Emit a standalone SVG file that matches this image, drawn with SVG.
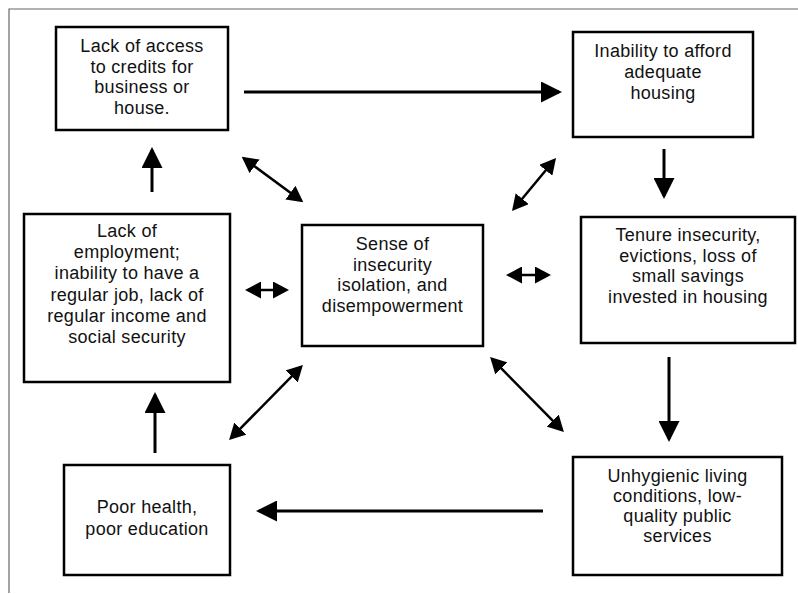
<svg xmlns="http://www.w3.org/2000/svg" width="798" height="594" viewBox="0 0 798 594">
<style>
.box{fill:#fff;stroke:#000;stroke-width:2.5}
.t{font-family:"Liberation Sans",Arial,sans-serif;font-size:18px;letter-spacing:0.3px;fill:#111;text-anchor:middle}
.a{stroke:#000;stroke-width:3;fill:none}
.d{stroke:#000;stroke-width:2.5;fill:none}
.frame{stroke:#666;stroke-width:1.2;fill:none}
</style>
<defs>
<marker id="ah" viewBox="0 0 21 21" markerWidth="21" markerHeight="21" refX="18" refY="10.5" markerUnits="userSpaceOnUse" orient="auto-start-reverse">
<path d="M0,0 L21,10.5 L0,21 z" fill="#000"/>
</marker>
<marker id="sh" viewBox="0 0 16 17" markerWidth="16" markerHeight="17" refX="13" refY="8.5" markerUnits="userSpaceOnUse" orient="auto-start-reverse">
<path d="M0,0 L16,8.5 L0,17 z" fill="#000"/>
</marker>
</defs>
<rect width="798" height="594" fill="#fff"/>
<path class="frame" d="M9,593 L9,9 L798,9"/>

<g id="connectors">
<line class="a" x1="244" y1="92" x2="559" y2="92" marker-end="url(#ah)"/>
<line class="a" x1="152" y1="192" x2="152" y2="150" marker-end="url(#ah)"/>
<line class="a" x1="664" y1="149" x2="664" y2="196" marker-end="url(#ah)"/>
<line class="a" x1="669" y1="357" x2="669" y2="439" marker-end="url(#ah)"/>
<line class="a" x1="155" y1="453" x2="155" y2="395" marker-end="url(#ah)"/>
<line class="a" x1="543" y1="511" x2="259" y2="511" marker-end="url(#ah)"/>
<line class="d" x1="244.1" y1="158.6" x2="300.9" y2="200.4" marker-start="url(#sh)" marker-end="url(#sh)"/>
<line class="d" x1="513.9" y1="208.7" x2="554.1" y2="160.3" marker-start="url(#sh)" marker-end="url(#sh)"/>
<line class="d" x1="300.8" y1="367.2" x2="231.2" y2="437.8" marker-start="url(#sh)" marker-end="url(#sh)"/>
<line class="d" x1="492.2" y1="359.2" x2="561.8" y2="429.8" marker-start="url(#sh)" marker-end="url(#sh)"/>
<line class="d" x1="248" y1="290" x2="286" y2="290" marker-start="url(#sh)" marker-end="url(#sh)"/>
<line class="d" x1="509" y1="275" x2="548" y2="275" marker-start="url(#sh)" marker-end="url(#sh)"/>
</g>

<g id="n-credits">
<rect class="box" x="56" y="27" width="172" height="103"/>
<text class="t"><tspan x="142" y="52">Lack of access</tspan><tspan x="142" y="72.5">to credits for</tspan><tspan x="142" y="93">business or</tspan><tspan x="142" y="113.5">house.</tspan></text>
</g>

<g id="n-housing">
<rect class="box" x="573" y="32" width="180" height="105"/>
<text class="t"><tspan x="663" y="57">Inability to afford</tspan><tspan x="663" y="78">adequate</tspan><tspan x="663" y="99">housing</tspan></text>
</g>

<g id="n-employment">
<rect class="box" x="24" y="214" width="206" height="168"/>
<text class="t"><tspan x="127" y="237">Lack of</tspan><tspan x="127" y="258">employment;</tspan><tspan x="127" y="279">inability to have a</tspan><tspan x="127" y="300.5">regular job, lack of</tspan><tspan x="127" y="322">regular income and</tspan><tspan x="127" y="343">social security</tspan></text>
</g>

<g id="n-insecurity">
<rect class="box" x="302" y="225" width="181" height="121"/>
<text class="t"><tspan x="392.5" y="250">Sense of</tspan><tspan x="392.5" y="270.5">insecurity</tspan><tspan x="392.5" y="291">isolation, and</tspan><tspan x="392.5" y="312">disempowerment</tspan></text>
</g>

<g id="n-tenure">
<rect class="box" x="581" y="217" width="214" height="126"/>
<text class="t"><tspan x="688" y="241">Tenure insecurity,</tspan><tspan x="688" y="261.5">evictions, loss of</tspan><tspan x="688" y="282">small savings</tspan><tspan x="688" y="303">invested in housing</tspan></text>
</g>

<g id="n-unhygienic">
<rect class="box" x="573" y="457" width="209" height="118"/>
<text class="t"><tspan x="677.5" y="482">Unhygienic living</tspan><tspan x="677.5" y="502">conditions, low-</tspan><tspan x="677.5" y="522">quality public</tspan><tspan x="677.5" y="542">services</tspan></text>
</g>

<g id="n-health">
<rect class="box" x="64" y="465" width="166" height="110"/>
<text class="t"><tspan x="147" y="513">Poor health,</tspan><tspan x="147" y="535">poor education</tspan></text>
</g>
</svg>
